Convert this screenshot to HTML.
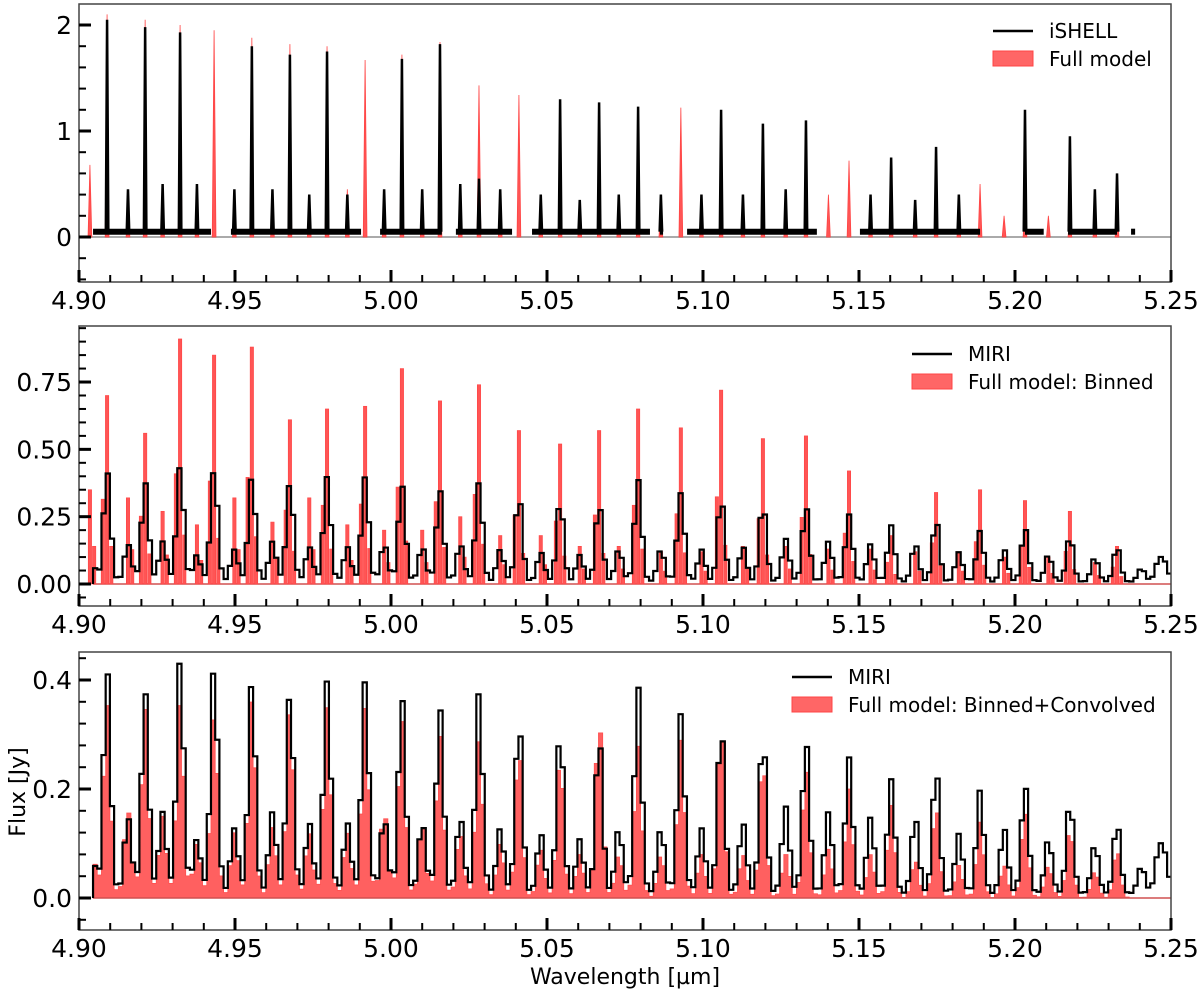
<!DOCTYPE html>
<html><head><meta charset="utf-8">
<style>
html,body{margin:0;padding:0;background:#fff;}
svg{display:block;font-family:"DejaVu Sans","Liberation Sans",sans-serif;}
</style></head>
<body>
<svg id="fig" width="1200" height="994" viewBox="0 0 1200 994" xmlns="http://www.w3.org/2000/svg"></svg>
<script>
// ---- data ----
const lineCenters = [4.9090,4.9212,4.9324,4.9433,4.9554,4.9676,4.9795,4.9917,5.0035,5.0157,5.0282,5.0410,5.0542,5.0667,5.0792,5.0929,5.1058,5.1192,5.1330,5.1468,5.1603,5.1747,5.1888,5.2032,5.2176,5.2327];
const satCenters = [4.9035,4.9157,4.9268,4.9378,4.9498,4.9620,4.9738,4.9860,4.9978,5.0100,5.0222,5.0350,5.0480,5.0605,5.0730,5.0865,5.0995,5.1128,5.1265,5.1402,5.1537,5.1680,5.1820,5.1965,5.2107,5.2256];
const ishellModel = [2.1,2.05,2.0,1.95,1.88,1.82,1.80,1.67,1.72,1.84,1.43,1.34,0.3,0.2,0.2,1.22,0.3,0.25,0.25,0.72,0.25,0.25,0.5,0.3,0.2,0.3];
const ishellObs = [2.05,1.98,1.93,0,1.8,1.72,1.75,0,1.68,1.82,0.55,0,1.3,1.27,1.23,0,1.2,1.07,1.1,0,0.75,0.85,0,1.2,0.95,0.6];
const satModel = [0.68,0.3,0.3,0.25,0.2,0.25,0.3,0.45,0.4,0.45,0.4,0.4,0.3,0.3,0.3,0.3,0.2,0.2,0.2,0.4,0.2,0.2,0.2,0.2,0.2,0.2];
const satObs = [0.55,0.45,0.5,0.5,0.45,0.45,0.4,0.4,0.45,0.45,0.5,0.45,0.4,0.35,0.4,0.4,0.4,0.4,0.45,0.3,0.4,0.35,0.4,0.7,0.6,0.45];
const ishellGaps = [[4.9423,4.9487],[4.9904,4.9965],[5.0163,5.0208],[5.0388,5.0452],[5.0830,5.0862],[5.0872,5.0949],[5.1365,5.1503],[5.1888,5.2032],[5.2092,5.2170],[5.2327,5.2372]];
const ishellRange = [4.9045,5.2385];
const binnedMain = [0.70,0.56,0.91,0.85,0.88,0.61,0.65,0.66,0.80,0.68,0.74,0.57,0.52,0.57,0.65,0.58,0.72,0.54,0.55,0.42,0.18,0.34,0.35,0.31,0.27,0.14];
const binnedSat = [0.35,0.32,0.27,0.22,0.32,0.23,0.32,0.22,0.2,0.2,0.25,0.18,0.18,0.14,0.14,0.12,0.12,0.14,0.14,0.13,0.13,0.12,0.12,0.1,0.1,0.08];
const miriMain = [0.41,0.37,0.43,0.42,0.39,0.37,0.39,0.39,0.36,0.34,0.37,0.32,0.30,0.29,0.38,0.33,0.31,0.29,0.28,0.25,0.21,0.23,0.19,0.20,0.17,0.13];
const miriSat = [0.13,0.14,0.15,0.10,0.12,0.15,0.13,0.13,0.14,0.13,0.14,0.12,0.11,0.10,0.12,0.12,0.12,0.13,0.16,0.15,0.14,0.14,0.11,0.12,0.10,0.09];
const miriTail = [5.2405,5.2460,5.2480];
const miriTailH = [0.05,0.07,0.06];
const convMain = [0.36,0.35,0.36,0.34,0.37,0.35,0.35,0.35,0.33,0.30,0.29,0.28,0.26,0.33,0.28,0.29,0.32,0.26,0.24,0.20,0.17,0.17,0.14,0.16,0.13,0.09];
const convSat = [0.16,0.16,0.15,0.1,0.12,0.13,0.12,0.12,0.16,0.14,0.12,0.1,0.09,0.08,0.08,0.08,0.08,0.08,0.08,0.09,0.08,0.07,0.06,0.06,0.06,0.05];
const miriContinuum = 0.008;
const xTicks = [4.90,4.95,5.00,5.05,5.10,5.15,5.20,5.25];
const yTicks1 = [0,1,2];
const yTicks2 = [0,0.25,0.5,0.75];
const yTicks3 = [0,0.2,0.4];

// ---- helpers ----
const svg = document.getElementById('fig');
const NS = 'http://www.w3.org/2000/svg';
function mk(tag, attrs, parent){
  const e = document.createElementNS(NS, tag);
  for (const k in attrs) e.setAttribute(k, attrs[k]);
  (parent||svg).appendChild(e);
  return e;
}
const X0 = 79, X1 = 1171, W0 = 4.9, W1 = 5.25;
function X(w){ return X0 + (w - W0) * (X1 - X0) / (W1 - W0); }
const panels = [
  {top:4, bottom:282, zero:237, ppu:106, ticks:yTicks1, minor:0.2, fmt:v=>String(v)},
  {top:326, bottom:606, zero:584, ppu:269.3, ticks:yTicks2, minor:0.05, fmt:v=>v.toFixed(2)},
  {top:652, bottom:930, zero:898, ppu:545, ticks:yTicks3, minor:0.04, fmt:v=>v.toFixed(1)}
];
function Yf(p){ return v => p.zero - v * p.ppu; }
function inGap(w){
  if (w < ishellRange[0] || w > ishellRange[1]) return true;
  return ishellGaps.some(g => w > g[0] && w < g[1]);
}
function gauss(w, centers, heights, sig, cont){
  let s = cont;
  for (let i=0;i<centers.length;i++){ const d=(w-centers[i])/sig; if (Math.abs(d)<6) s += heights[i]*Math.exp(-0.5*d*d); }
  return s;
}
const binW = 0.00135, binStart = 4.9045;
function bins(end){ const a=[]; for (let w=binStart; w<end; w+=binW) a.push(w); return a; }

function drawAxes(p, idx){
  const Y = Yf(p);
  const g = mk('g', {});
  
  
  const f = mk('rect', {x:X0, y:p.top, width:X1-X0, height:p.bottom-p.top, fill:'none', stroke:'#444', 'stroke-width':1.5}, g);
  
  
  for (let k=0;k<=35;k++){
    const w = 4.9 + k*0.01, x = X(w), major = k%5===0;
    const t = mk('line', {x1:x, x2:x, y1:p.bottom, y2:p.bottom-(major?12:7), stroke:'#000', 'stroke-width':major?3:2}, g);
    
    
  }
  xTicks.forEach(v=>{
    const t = mk('text', {x:X(v), y:p.bottom+27, 'font-size':25, 'text-anchor':'middle', fill:'#000'}, g);
    t.textContent = v.toFixed(2);
    
    
  });
  const vmin = (p.zero - p.bottom)/p.ppu, vmax = (p.zero - p.top)/p.ppu;
  for (let v = Math.ceil(vmin/p.minor - 1e-6)*p.minor; v <= vmax + 1e-9; v += p.minor){
    const y = Y(v);
    const major = p.ticks.some(t => Math.abs(t - v) < 1e-6);
    const t = mk('line', {x1:X0, x2:X0+(major?12:7), y1:y, y2:y, stroke:'#000', 'stroke-width':major?3:2}, g);
    
    
  }
  p.ticks.forEach(v=>{
    const t = mk('text', {x:X0-7, y:Y(v)+9, 'font-size':25, 'text-anchor':'end', fill:'#000'}, g);
    t.textContent = p.fmt(v);
    
    
  });
}

function legend(x, y, l1, l2, idx){
  const g = mk('g', {});
  
  
  const ln = mk('line', {x1:x, x2:x+40, y1:y, y2:y, stroke:'#000', 'stroke-width':2.5}, g);
  
  
  const t1 = mk('text', {x:x+56, y:y+7, 'font-size':20, fill:'#000'}, g);
  t1.textContent = l1;
  
  
  const r = mk('rect', {x:x, y:y+20, width:40, height:15, fill:'#ff6666', stroke:'#ff4444', 'stroke-width':1}, g);
  
  
  const t2 = mk('text', {x:x+56, y:y+35, 'font-size':20, fill:'#000'}, g);
  t2.textContent = l2;
  
  
}

// ---- panel 1: iSHELL ----
(function(){
  const p = panels[0], Y = Yf(p);
  const g = mk('g', {});
  
  
  const zl = mk('line', {x1:X0, x2:X1, y1:Y(0), y2:Y(0), stroke:'#aaa', 'stroke-width':2}, g);
  
  
  const hw = 0.0006;
  const allC = lineCenters.concat(satCenters), allM = ishellModel.concat(satModel), allO = ishellObs.concat(satObs);
  allC.forEach((c,i)=>{
    const pk = mk('polygon', {points:`${X(c-hw)},${Y(0)} ${X(c)},${Y(allM[i])} ${X(c+hw)},${Y(0)}`, fill:'#ff5555', stroke:'#ff4444', 'stroke-width':0.8}, g);
    
    
  });
  const edges = [ishellRange[0]];
  ishellGaps.forEach(gp=>{ edges.push(gp[0]); edges.push(gp[1]); });
  edges.push(ishellRange[1]);
  for (let i=0;i<edges.length;i+=2){
    const s = mk('line', {x1:X(edges[i]), x2:X(edges[i+1]), y1:Y(0.05), y2:Y(0.05), stroke:'#000', 'stroke-width':6}, g);
    
    
  }
  allC.forEach((c,i)=>{
    if (allO[i] <= 0 || inGap(c)) return;
    const pk = mk('polyline', {points:`${X(c-0.0004)},${Y(0.05)} ${X(c)},${Y(allO[i])} ${X(c+0.0004)},${Y(0.05)}`, fill:'none', stroke:'#000', 'stroke-width':2.5}, g);
    
    
  });
})();

// ---- MIRI step path ----
const sigMain = 0.00115, sigSat = 0.0012;
function miriVal(w){
  return gauss(w, lineCenters, miriMain, sigMain, miriContinuum) + gauss(w, satCenters, miriSat, sigSat, 0) + gauss(w, miriTail, miriTailH, 0.0012, 0);
}
function miriPath(Y){
  let d = '';
  bins(5.25).forEach((w,i)=>{
    const v = miriVal(w+binW/2);
    const x0 = X(w), x1 = Math.min(X(w+binW), X1);
    d += (i===0?`M${x0},${Y(0)} L${x0},${Y(v)}`:` L${x0},${Y(v)}`) + ` L${x1},${Y(v)}`;
  });
  return d;
}
// ---- panel 2 ----
(function(){
  const p = panels[1], Y = Yf(p);
  const g = mk('g', {});
  
  
  const zl = mk('line', {x1:X(binStart), x2:X1, y1:Y(0), y2:Y(0), stroke:'#d05050', 'stroke-width':1.5}, g);
  
  
  const bw = binW*0.8;
  function bar(c,h){
    const b = mk('rect', {x:X(c-bw/2), y:Y(h), width:X(c+bw/2)-X(c-bw/2), height:Y(0)-Y(h), fill:'#ff5555', stroke:'#ff4444', 'stroke-width':0.6}, g);
    
    
  }
  lineCenters.forEach((c,i)=>{ bar(c, binnedMain[i]); bar(c-binW, binnedMain[i]*0.45); bar(c+binW, binnedMain[i]*0.2); });
  satCenters.forEach((c,i)=>{ bar(c, binnedSat[i]); bar(c+binW, binnedSat[i]*0.4); });
  const pth = mk('path', {d:miriPath(Y), fill:'none', stroke:'#000', 'stroke-width':2.2}, g);
  
  
})();

// ---- panel 3 ----
(function(){
  const p = panels[2], Y = Yf(p);
  const g = mk('g', {});
  
  
  let d = '';
  const bs = bins(5.2365);
  bs.forEach((w,i)=>{
    const v = gauss(w+binW/2, lineCenters, convMain, sigMain, 0) + gauss(w+binW/2, satCenters, convSat, sigSat, 0);
    d += (i===0?`M${X(w)},${Y(0)} L${X(w)},${Y(v)}`:` L${X(w)},${Y(v)}`) + ` L${X(w+binW)},${Y(v)}`;
  });
  d += ` L${X(bs[bs.length-1]+binW)},${Y(0)} Z`;
  const fl = mk('path', {d:d, fill:'#ff6060', stroke:'#ff5050', 'stroke-width':0.8}, g);
  
  
  const zl = mk('line', {x1:X(binStart), x2:X1, y1:Y(0), y2:Y(0), stroke:'#d05050', 'stroke-width':1.5}, g);
  
  
  const pth = mk('path', {d:miriPath(Y), fill:'none', stroke:'#000', 'stroke-width':2.2}, g);
  
  
})();

panels.forEach(drawAxes);
legend(993, 31, 'iSHELL', 'Full model', 1);
legend(912, 354, 'MIRI', 'Full model: Binned', 2);
legend(792, 677, 'MIRI', 'Full model: Binned+Convolved', 3);

const xt = mk('text', {x:625, y:984, 'font-size':22, 'text-anchor':'middle', fill:'#000'});
xt.textContent = 'Wavelength [µm]';


const yt = mk('text', {x:0, y:0, 'font-size':22, 'text-anchor':'middle', fill:'#000', transform:'translate(25,792) rotate(-90)'});
yt.textContent = 'Flux [Jy]';


</script>
</body></html>
